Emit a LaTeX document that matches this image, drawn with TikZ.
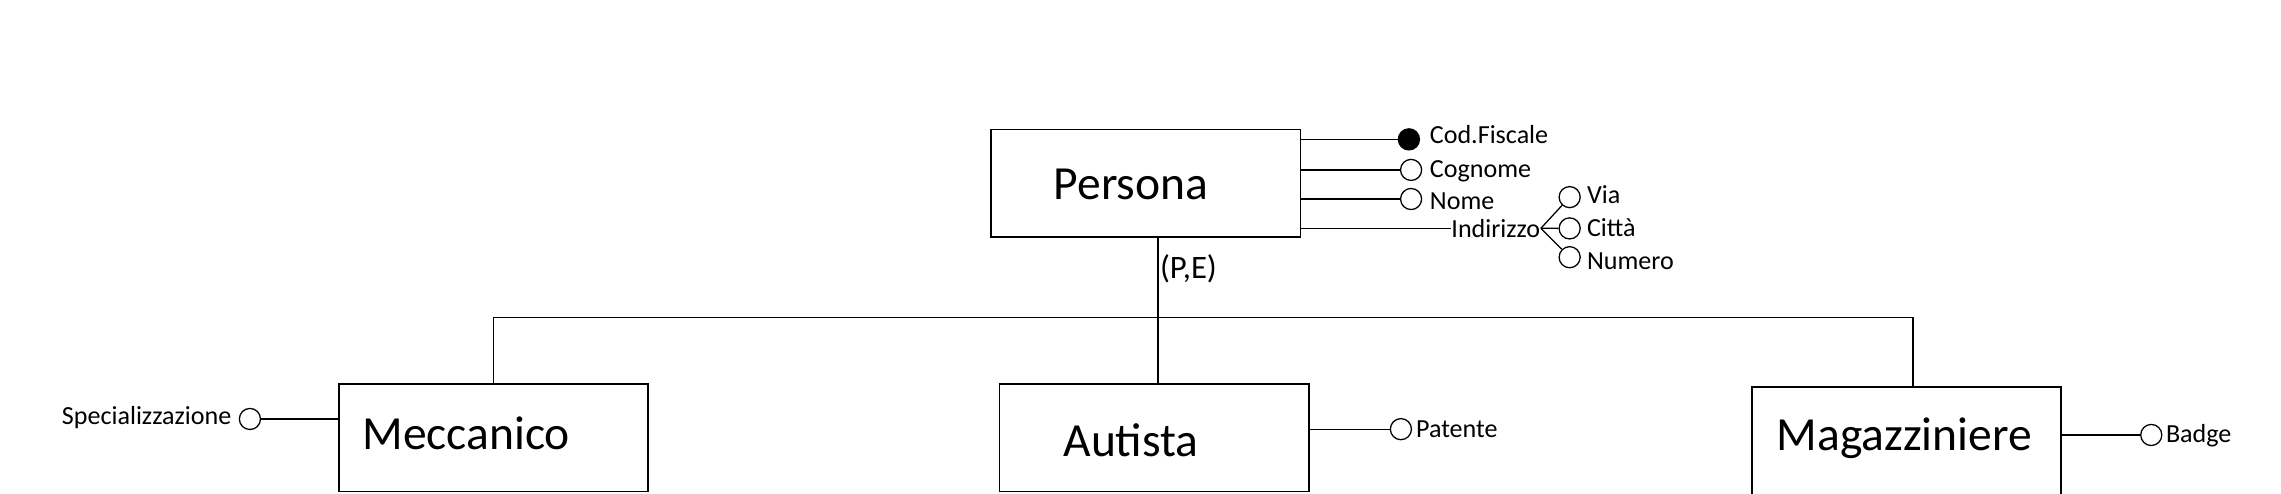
\documentclass[tikz,border=0pt]{standalone}
\usepackage{fontspec}
\setmainfont{Carlito}

\begin{document}
\begin{tikzpicture}
          [x=0.02cm,y=-0.02cm,line width=0.5pt,entity/.style={rectangle, draw, minimum width=4.25cm, minimum height=1.48cm},attr/.style={circle, draw, inner sep=0pt, minimum size=0.29cm}]
        \tikzset{
          key/.style={attr, fill=black},
          etext/.style={font=\fontsize{18.6}{22}\selectfont, inner sep=0pt, anchor=base},
          lbl/.style={font=\fontsize{10.2}{12}\selectfont, inner sep=0pt, anchor=base west},
          card/.style={font=\fontsize{12.8}{15}\selectfont, inner sep=0pt, anchor=base west}
        }
          \useasboundingbox (0,0) rectangle (1568,339);
          \node [entity] (persona) at (787.5,126) {};
          \node [entity] (meccanico) at (339.25,301) {};
          \node [entity] (autista) at (793.5,301) {};
          \node [entity] (magazziniere) at (1310.5,303) {};
          \node [etext] (tpersona) at (777.5,136.8) {Persona};
          \node [etext] (tmeccanico) at (320.5,309) {Meccanico};
          \node [etext] (tautista) at (777.5,313.9) {Autista};
          \node [etext] (tmagazziniere) at (1309,309.5) {Magazziniere};
          \coordinate (bar) at (796,218);
          \coordinate (barend) at (1315,218);
          \draw (persona.south -| bar) -- (autista.north -| bar);
          \draw (meccanico.north) |- (barend) -- (barend |- magazziniere.north);
          \node [card] (pe) at (797,191.3) {(P,E)};
          \node [key] (codfisc) at (968.5,95.8) {};
          \node [attr] (cognome) at (970,116.8) {};
          \node [attr] (nome) at (970,136.8) {};
          \node [lbl] (lcodfisc) at (982.5,98.5) {Cod.Fiscale};
          \node [lbl] (lcognome) at (982.5,121.9) {Cognome};
          \node [lbl] (lnome) at (982.5,144.3) {Nome};
          \node [lbl] (indirizzo) at (997.3,163.1) {Indirizzo};
          \draw (codfisc) -- (codfisc -| persona.east);
          \draw (cognome) -- (cognome -| persona.east);
          \draw (nome) -- (nome -| persona.east);
          \draw (indirizzo.west) -- (indirizzo.west -| persona.east);
          \node [attr] (via) at (1079,135.5) {};
          \node [attr] (citta) at (1079,157) {};
          \node [attr] (numero) at (1079,176.8) {};
          \node [lbl] (lvia) at (1090.5,140.2) {Via};
          \node [lbl] (lcitta) at (1090.5,162.7) {Città};
          \node [lbl] (lnumero) at (1090.5,185.1) {Numero};
          \draw (indirizzo.east) -- (via);
          \draw (indirizzo.east) -- (citta);
          \draw (indirizzo.east) -- (numero);
          \node [attr] (spec) at (171.8,288) {};
          \node [lbl, anchor=base east] (lspec) at (159.5,292) {Specializzazione};
          \draw (spec) -- (spec -| meccanico.west);
          \node [attr] (patente) at (963,295) {};
          \node [lbl] (lpatente) at (973,300.6) {Patente};
          \draw (patente) -- (patente -| autista.east);
          \node [attr] (badge) at (1478.8,299) {};
          \node [lbl] (lbadge) at (1488.5,304) {Badge};
          \draw (badge) -- (badge -| magazziniere.east);
        \end{tikzpicture}
\end{document}
